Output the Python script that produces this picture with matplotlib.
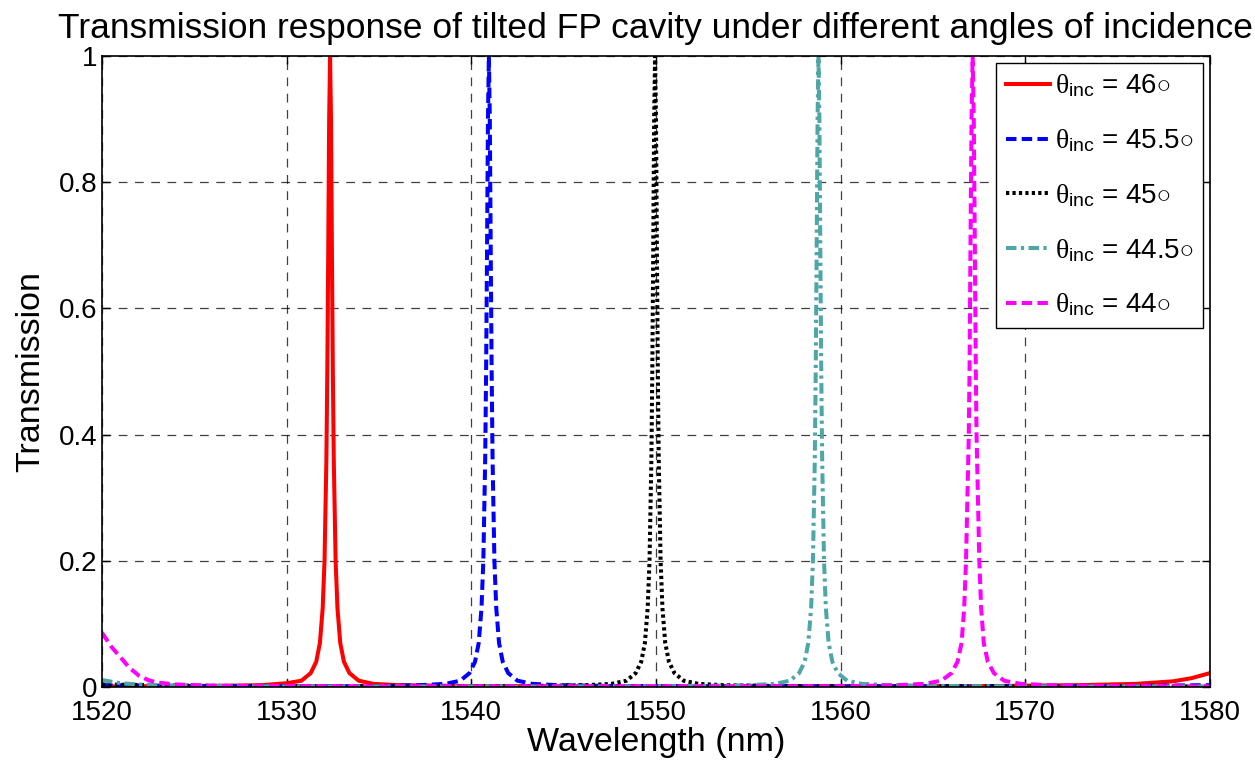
import matplotlib
matplotlib.use("Agg")
import matplotlib.pyplot as plt

plt.rcParams["font.family"] = ["Liberation Sans", "DejaVu Sans"]
plt.rcParams["mathtext.fontset"] = "custom"
plt.rcParams["mathtext.rm"] = "Liberation Sans"
plt.rcParams["mathtext.it"] = "Liberation Serif"

# ---- data (wavelength in nm, transmission) ----
wl_46 = [1520, 1524, 1527, 1528.7, 1530, 1530.8, 1531.3, 1531.6, 1531.8, 1531.95,
         1532.05, 1532.15, 1532.2, 1532.25, 1532.3, 1532.35, 1532.4, 1532.45,
         1532.5, 1532.55, 1532.65, 1532.75, 1532.9, 1533.1, 1533.4, 1533.9,
         1534.7, 1536, 1540, 1550, 1560, 1568, 1573, 1576, 1578, 1579, 1580]
tr_46 = [0.001, 0.0015, 0.002, 0.003, 0.006, 0.01, 0.022, 0.04, 0.07, 0.125,
         0.2, 0.36, 0.5, 0.69, 0.9, 1.0, 0.9, 0.69,
         0.5, 0.36, 0.2, 0.125, 0.07, 0.04, 0.022, 0.01,
         0.005, 0.003, 0.0015, 0.001, 0.001, 0.0015, 0.003, 0.005, 0.009, 0.014, 0.022]

wl_455 = [1520, 1525, 1530, 1535, 1537.3, 1538.6, 1539.4, 1539.9, 1540.2, 1540.4,
          1540.55, 1540.65, 1540.75, 1540.8, 1540.85, 1540.9, 1540.95, 1541.0,
          1541.05, 1541.1, 1541.15, 1541.25, 1541.35, 1541.5, 1541.7, 1542.0,
          1542.5, 1543.3, 1544.6, 1548, 1555, 1565, 1575, 1580]
tr_455 = [0.003, 0.0015, 0.001, 0.0015, 0.003, 0.005, 0.01, 0.022, 0.04, 0.07,
          0.125, 0.2, 0.36, 0.5, 0.69, 0.9, 1.0, 0.9,
          0.69, 0.5, 0.36, 0.2, 0.125, 0.07, 0.04, 0.022,
          0.01, 0.005, 0.003, 0.0015, 0.001, 0.001, 0.0015, 0.003]

wl_45 = [1520, 1525, 1535, 1543, 1546.3, 1547.6, 1548.4, 1548.9, 1549.2, 1549.4,
         1549.55, 1549.65, 1549.75, 1549.8, 1549.85, 1549.9, 1549.95, 1550.0,
         1550.05, 1550.1, 1550.15, 1550.25, 1550.35, 1550.5, 1550.7, 1551.0,
         1551.5, 1552.3, 1553.6, 1557, 1565, 1575, 1580]
tr_45 = [0.004, 0.002, 0.001, 0.0015, 0.003, 0.005, 0.01, 0.022, 0.04, 0.07,
         0.125, 0.2, 0.36, 0.5, 0.69, 0.9, 1.0, 0.9,
         0.69, 0.5, 0.36, 0.2, 0.125, 0.07, 0.04, 0.022,
         0.01, 0.005, 0.003, 0.0015, 0.001, 0.001, 0.001]

wl_445 = [1520, 1521, 1522, 1524, 1530, 1545, 1552, 1555.15, 1556.45, 1557.25,
          1557.75, 1558.05, 1558.25, 1558.4, 1558.5, 1558.6, 1558.65, 1558.7,
          1558.75, 1558.8, 1558.85, 1558.9, 1558.95, 1559.0, 1559.1, 1559.2,
          1559.35, 1559.55, 1559.85, 1560.35, 1561.15, 1562.45, 1566, 1573, 1580]
tr_445 = [0.011, 0.006, 0.004, 0.002, 0.001, 0.001, 0.0015, 0.003, 0.005, 0.01,
          0.022, 0.04, 0.07, 0.125, 0.2, 0.36, 0.5, 0.69,
          0.9, 1.0, 0.9, 0.69, 0.5, 0.36, 0.2, 0.125,
          0.07, 0.04, 0.022, 0.01, 0.005, 0.003, 0.0015, 0.001, 0.001]

wl_44 = [1520, 1520.5, 1521, 1521.5, 1522, 1522.5, 1523, 1524, 1526, 1535,
         1555, 1561, 1563.15, 1564.55, 1565.45, 1566.0, 1566.33, 1566.55,
         1566.69, 1566.79, 1566.94, 1566.98, 1567.03, 1567.09, 1567.15,
         1567.21, 1567.27, 1567.32, 1567.36, 1567.51, 1567.61, 1567.75,
         1567.97, 1568.3, 1568.85, 1569.75, 1571.15, 1574, 1580]
tr_44 = [0.086, 0.064, 0.047, 0.03, 0.018, 0.011, 0.007, 0.004, 0.002, 0.001,
         0.001, 0.0015, 0.003, 0.005, 0.01, 0.022, 0.04, 0.07,
         0.125, 0.2, 0.4, 0.5, 0.69, 0.9, 1.0,
         0.9, 0.69, 0.5, 0.4, 0.2, 0.125, 0.07,
         0.04, 0.022, 0.01, 0.005, 0.003, 0.0015, 0.001]

series = [
    (wl_46, tr_46, r"$\theta_{\mathrm{inc}}$ = 46$\circ$", "#ff0000", "-"),
    (wl_455, tr_455, r"$\theta_{\mathrm{inc}}$ = 45.5$\circ$", "#0000ff", (0, (2.6, 1.3))),
    (wl_45, tr_45, r"$\theta_{\mathrm{inc}}$ = 45$\circ$", "#000000", (0, (0.8, 0.8))),
    (wl_445, tr_445, r"$\theta_{\mathrm{inc}}$ = 44.5$\circ$", "#4fa6a6", (0, (2.6, 1.1, 0.8, 1.1))),
    (wl_44, tr_44, r"$\theta_{\mathrm{inc}}$ = 44$\circ$", "#ff00ff", (0, (2.6, 1.3))),
]

x_ticks = [1520, 1530, 1540, 1550, 1560, 1570, 1580]
y_ticks = [0, 0.2, 0.4, 0.6, 0.8, 1]
y_tick_labels = ["0", "0.2", "0.4", "0.6", "0.8", "1"]

fig = plt.figure(figsize=(12.55, 7.63), dpi=100)
ax = fig.add_axes([0.0813, 0.0996, 0.8828, 0.827])

for wl, tr, label, color, ls in series:
    ax.plot(wl, tr, color=color, linestyle=ls, lw=2.9, label=label)

ax.set_xlim(1520, 1580)
ax.set_ylim(0, 1)
ax.set_xticks(x_ticks)
ax.set_yticks(y_ticks)
ax.set_yticklabels(y_tick_labels)
ax.tick_params(direction="in", length=6, width=1, labelsize=20,
               top=True, right=True, pad=3)
ax.tick_params(axis="x", pad=9)
ax.grid(True, color="black", linestyle=(0, (7, 6)), lw=0.9, alpha=0.75)
for sp in ax.spines.values():
    sp.set_linewidth(1.2)

ax.set_xlabel("Wavelength (nm)", fontsize=24.5, labelpad=1)
ax.set_ylabel("Transmission", fontsize=24.5, labelpad=9)
ax.set_title("Transmission response of tilted FP cavity under different angles of incidence",
             fontsize=25.5, pad=13)

leg = ax.legend(loc="upper right", fontsize=20, handlelength=1.6, handletextpad=0.15,
                labelspacing=1.0, borderpad=0.35, borderaxespad=0.25,
                fancybox=False, framealpha=1, edgecolor="black")
leg.get_frame().set_linewidth(1.0)

fig.savefig("out.png", dpi=100)
